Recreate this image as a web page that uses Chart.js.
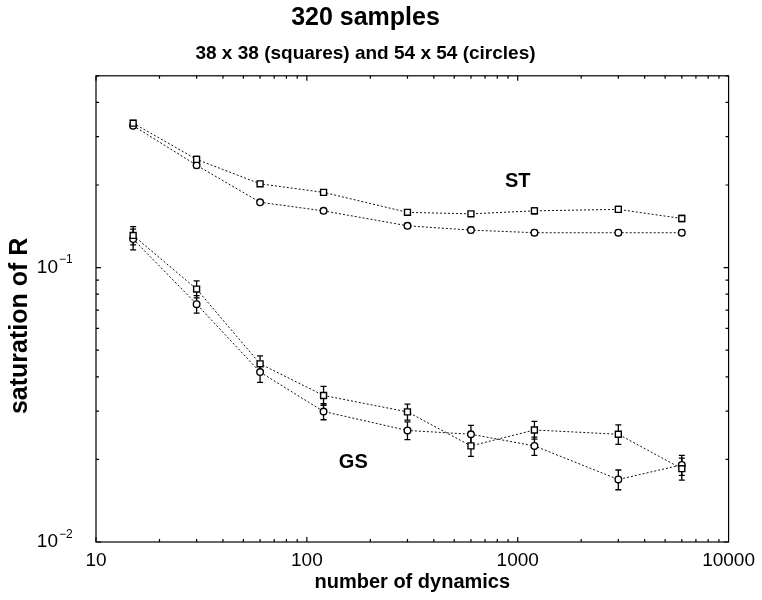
<!DOCTYPE html>
<html>
<head>
<meta charset="utf-8">
<title>320 samples</title>
<script src="https://cdn.jsdelivr.net/npm/chart.js@4.4.0/dist/chart.umd.min.js"></script>
<style>
  html, body { margin: 0; padding: 0; background: #fff; }
  #wrap { width: 762px; height: 600px; }
</style>
</head>
<body>
<div id="wrap"><canvas id="chart" width="762" height="600"></canvas></div>
<script>
// --- Data ---
const dynamics = [15, 30, 60, 120, 300, 600, 1200, 3000, 6000];

const stSquares    = [0.336, 0.248, 0.202, 0.188, 0.159, 0.157, 0.161, 0.163, 0.151];
const stSquaresErr = [0.008, 0.006, 0.004, 0.004, 0.003, 0.003, 0.004, 0.004, 0.004];
const stCircles    = [0.329, 0.236, 0.173, 0.161, 0.142, 0.137, 0.134, 0.134, 0.134];
const stCirclesErr = [0.007, 0.005, 0.003, 0.003, 0.003, 0.003, 0.003, 0.003, 0.003];

const gsSquares    = [0.131, 0.0835, 0.0446, 0.0342, 0.0298, 0.0224, 0.0256, 0.0247, 0.0185];
const gsSquaresErr = [0.010, 0.006, 0.0031, 0.0027, 0.0020, 0.0019, 0.0019, 0.0020, 0.0017];
const gsCircles    = [0.127, 0.0736, 0.0416, 0.0299, 0.0255, 0.0247, 0.0224, 0.0169, 0.0191];
const gsCirclesErr = [0.011, 0.0054, 0.0034, 0.0020, 0.0019, 0.0019, 0.0017, 0.0014, 0.0016];

// axis ticks
const xTickValues = [10, 100, 1000, 10000];
const yTickValues = [0.01, 0.1];
const yTickExponents = ['\u22122', '\u22121'];
const yTitle = 'saturation of R';

// text labels placed in data coordinates
const seriesLabels = [
  { text: 'ST', x: 1000, y: 0.206 },
  { text: 'GS', x: 166, y: 0.0195 }
];

const FONT = '"Liberation Sans", Arial, Helvetica, sans-serif';
Chart.defaults.font.family = FONT;
Chart.defaults.color = '#000';

const toPoints = (vals) => vals.map((v, i) => ({ x: dynamics[i], y: v }));

function makeSet(label, vals, errs, style, radius) {
  return {
    label: label,
    data: toPoints(vals),
    errors: errs,
    showLine: true,
    borderColor: '#111',
    borderWidth: 1,
    borderDash: [2, 2],
    pointStyle: style,
    pointRadius: radius,
    pointBorderWidth: 1.4,
    pointBorderColor: '#000',
    pointBackgroundColor: '#fff',
    backgroundColor: '#fff',
    fill: false
  };
}

// error bars, drawn under the markers
const errorBars = {
  id: 'errorBars',
  beforeDatasetsDraw(chart) {
    const { ctx, scales: { x, y } } = chart;
    ctx.save();
    ctx.strokeStyle = '#000';
    ctx.lineWidth = 1.3;
    chart.data.datasets.forEach(ds => {
      ds.data.forEach((p, i) => {
        const e = ds.errors[i];
        const px = x.getPixelForValue(p.x);
        const yTop = y.getPixelForValue(p.y + e);
        const yBot = y.getPixelForValue(p.y - e);
        ctx.beginPath();
        ctx.moveTo(px, yTop); ctx.lineTo(px, yBot);
        ctx.moveTo(px - 3, yTop); ctx.lineTo(px + 3, yTop);
        ctx.moveTo(px - 3, yBot); ctx.lineTo(px + 3, yBot);
        ctx.stroke();
      });
    });
    ctx.restore();
  }
};

// frame, inward ticks on all sides, y labels with superscripts, ST/GS labels
const frameAndLabels = {
  id: 'frameAndLabels',
  afterDraw(chart) {
    const { ctx, chartArea: a, scales: { x, y } } = chart;
    ctx.save();
    ctx.strokeStyle = '#000';
    ctx.lineWidth = 1.2;
    ctx.strokeRect(a.left, a.top, a.right - a.left, a.bottom - a.top);

    ctx.beginPath();
    // x ticks (bottom and top)
    for (let dec = 10; dec < 10000; dec *= 10) {
      for (let m = 1; m <= 9; m++) {
        const px = x.getPixelForValue(dec * m);
        const len = m === 1 ? 5 : 3;
        ctx.moveTo(px, a.bottom); ctx.lineTo(px, a.bottom - len);
        ctx.moveTo(px, a.top); ctx.lineTo(px, a.top + len);
      }
    }
    // y ticks (left and right)
    for (let dec = 0.01; dec < 0.5; dec *= 10) {
      for (let m = 1; m <= 9; m++) {
        const v = dec * m;
        if (v > 0.5) break;
        const py = y.getPixelForValue(v);
        const len = m === 1 ? 5 : 3;
        ctx.moveTo(a.left, py); ctx.lineTo(a.left + len, py);
        ctx.moveTo(a.right, py); ctx.lineTo(a.right - len, py);
      }
    }
    ctx.stroke();

    // y tick labels: 10 with superscript exponent
    ctx.fillStyle = '#000';
    yTickValues.forEach((v, i) => {
      const py = y.getPixelForValue(v);
      ctx.font = '19px ' + FONT;
      ctx.textAlign = 'right';
      ctx.textBaseline = 'middle';
      ctx.fillText('10', 58, py);
      ctx.font = '12px ' + FONT;
      ctx.textAlign = 'left';
      ctx.textBaseline = 'alphabetic';
      ctx.fillText(yTickExponents[i], 59, py - 4.5);
    });

    // y axis title, sits a little below the middle of the frame
    ctx.save();
    ctx.translate(20.5, (a.top + a.bottom) / 2 + 17);
    ctx.rotate(-Math.PI / 2);
    ctx.font = 'bold 25px ' + FONT;
    ctx.textAlign = 'center';
    ctx.textBaseline = 'middle';
    ctx.fillText(yTitle, 0, 0);
    ctx.restore();

    // series labels
    ctx.font = 'bold 20px ' + FONT;
    ctx.textAlign = 'center';
    ctx.textBaseline = 'middle';
    seriesLabels.forEach(l => {
      ctx.fillText(l.text, x.getPixelForValue(l.x), y.getPixelForValue(l.y));
    });
    ctx.restore();
  }
};

new Chart(document.getElementById('chart'), {
  type: 'scatter',
  data: {
    datasets: [
      makeSet('ST 38x38', stSquares, stSquaresErr, 'rect', 4.2),
      makeSet('ST 54x54', stCircles, stCirclesErr, 'circle', 3.3),
      makeSet('GS 38x38', gsSquares, gsSquaresErr, 'rect', 4.2),
      makeSet('GS 54x54', gsCircles, gsCirclesErr, 'circle', 3.3)
    ]
  },
  options: {
    responsive: false,
    animation: false,
    devicePixelRatio: 1,
    layout: { padding: { left: 0, right: 31, top: 3, bottom: 0 } },
    plugins: {
      legend: { display: false },
      tooltip: { enabled: false },
      title: {
        display: true,
        text: '320 samples',
        color: '#000',
        font: { size: 25, weight: 'bold' },
        padding: { top: 0, bottom: 9 }
      },
      subtitle: {
        display: true,
        text: '38 x 38 (squares) and 54 x 54 (circles)',
        color: '#000',
        font: { size: 19, weight: 'bold' },
        padding: { top: 0, bottom: 11 }
      }
    },
    scales: {
      x: {
        type: 'logarithmic',
        position: 'bottom',
        min: 10,
        max: 10000,
        grid: { display: false, drawTicks: false },
        border: { display: false },
        afterBuildTicks: (s) => { s.ticks = xTickValues.map(v => ({ value: v })); },
        afterFit: (s) => { s.height = 58; },
        ticks: {
          autoSkip: false,
          maxRotation: 0,
          padding: 7,
          color: '#000',
          font: { size: 19 },
          callback: (v) => String(v)
        },
        title: {
          display: true,
          text: 'number of dynamics',
          color: '#000',
          font: { size: 20, weight: 'bold' },
          padding: { top: 0, bottom: 6 }
        }
      },
      y: {
        type: 'logarithmic',
        min: 0.01,
        max: 0.5,
        grid: { display: false, drawTicks: false },
        border: { display: false },
        afterBuildTicks: (s) => { s.ticks = yTickValues.map(v => ({ value: v })); },
        afterFit: (s) => { s.width = 96; },
        ticks: { display: false },
        title: { display: false }
      }
    }
  },
  plugins: [errorBars, frameAndLabels]
});
</script>
</body>
</html>
